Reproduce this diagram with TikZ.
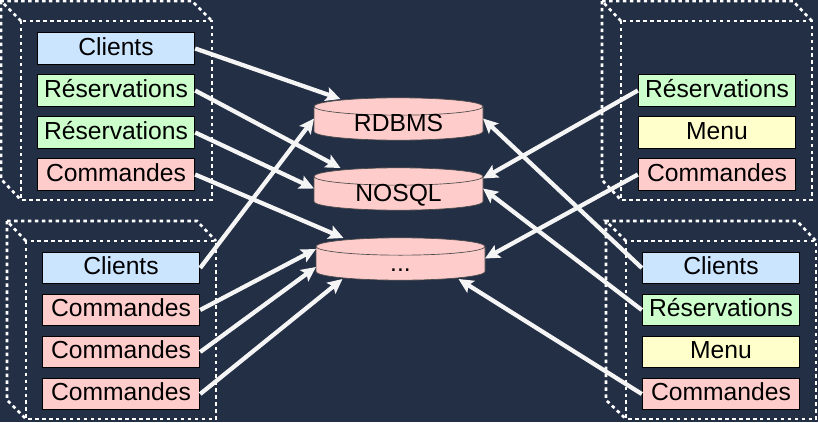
\documentclass[tikz,border=0pt]{standalone}
\usepackage[]{xcolor}
\usepackage{fontspec}
\setmainfont{Liberation Sans}
\usetikzlibrary{arrows.meta,calc,shapes.geometric}
\definecolor{slate}{HTML}{232F45}
\definecolor{paleblue}{HTML}{CCE5FF}
\definecolor{palegreen}{HTML}{CCFFCC}
\definecolor{palered}{HTML}{FFCCCC}
\definecolor{paleyellow}{HTML}{FFFFCC}
\definecolor{linkwhite}{HTML}{F5F5F5}
\begin{document}
\begin{tikzpicture}[
            x=0.75pt, y=-0.75pt,
            node distance=31.5pt,
            entity/.style={rectangle, draw=black, line width=0.75pt, minimum width=118pt, minimum height=23.5pt, inner sep=0pt, text height=13.5pt, text depth=3.2pt, font=\fontsize{18.5}{20}\selectfont},
            client/.style={entity, fill=paleblue},
            booking/.style={entity, fill=palegreen},
            order/.style={entity, fill=palered},
            menu/.style={entity, fill=paleyellow},
            store/.style={cylinder, shape border rotate=90, shape aspect=0.13, draw=black!70, line width=0.5pt, fill=palered, minimum width=126.75pt, minimum height=30pt, inner sep=0pt, text width=100pt, align=center, text height=12pt, text depth=-4pt, font=\fontsize{18.5}{20}\selectfont},
            service/.style={draw=white, line width=2pt, dash pattern=on 2.6pt off 2.6pt},
            arrow/.style={-{Stealth[length=11pt,width=10.5pt,inset=2.2pt]}, draw=linkwhite, line width=3.2pt}
        ]
            \useasboundingbox[fill=slate] (0,0) rectangle (818,422);

            % services
            \draw[service] (21,21) rectangle (212,200);
            \draw[service] (21,21) -- (1,1) -- (192,1) -- (212,21);
            \draw[service] (1,1) -- (1,179) -- (21,200);

            \draw[service] (26,241) rectangle (216,419);
            \draw[service] (26,241) -- (7,221) -- (197,221) -- (216,241);
            \draw[service] (7,221) -- (7,400) -- (26,419);

            \draw[service] (621,21) rectangle (812,200);
            \draw[service] (621,21) -- (602,1) -- (793,1) -- (812,21);
            \draw[service] (602,1) -- (602,180) -- (621,200);

            \draw[service] (626,241) rectangle (816,419);
            \draw[service] (626,241) -- (606,221) -- (797,221) -- (816,241);
            \draw[service] (606,221) -- (606,400) -- (626,419);

            % tables
            \node[client] (A1) at (116,48.5) {Clients};
            \node[booking, below of=A1] (A2) {Réservations};
            \node[booking, below of=A2] (A3) {Réservations};
            \node[order, below of=A3] (A4) {Commandes};

            \node[client] (B1) at (121,268) {Clients};
            \node[order, below of=B1] (B2) {Commandes};
            \node[order, below of=B2] (B3) {Commandes};
            \node[order, below of=B3] (B4) {Commandes};

            \node[booking] (C1) at (717,90.5) {Réservations};
            \node[menu, below of=C1] (C2) {Menu};
            \node[order, below of=C2] (C3) {Commandes};

            \node[client] (D1) at (721,268) {Clients};
            \node[booking, below of=D1] (D2) {Réservations};
            \node[menu, below of=D2] (D3) {Menu};
            \node[order, below of=D3] (D4) {Commandes};

            % bases
            \node[store] (rdbms) at (398.5,123.5) {RDBMS};
            \node[store] (nosql) at (398.5,193.5) {NOSQL};
            \node[store] (other) at (400.5,263.5) {...};

            % links
            \draw[arrow] (A1.east) -- ($(rdbms.center)+(-58,-24.5)$);
            \draw[arrow] (A2.east) -- ($(nosql.center)+(-58,-25.5)$);
            \draw[arrow] (A3.east) -- ($(nosql.center)+(-84.5,-5)$);
            \draw[arrow] (A4.east) -- ($(other.center)+(-57,-25.5)$);

            \draw[arrow] (B1.east) -- ($(rdbms.center)+(-84.5,-5)$);
            \draw[arrow] (B2.east) -- ($(other.center)+(-84.5,-14.5)$);
            \draw[arrow] (B3.east) -- ($(other.center)+(-84.5,3.5)$);
            \draw[arrow] (B4.east) -- ($(other.center)+(-58,15.5)$);

            \draw[arrow] (C1.west) -- ($(nosql.center)+(84.5,-15)$);
            \draw[arrow] (C3.west) -- ($(other.center)+(84.5,-5)$);

            \draw[arrow] (D1.west) -- ($(rdbms.center)+(84.5,-5)$);
            \draw[arrow] (D2.west) -- ($(nosql.center)+(84.5,-5)$);
            \draw[arrow] (D4.west) -- ($(other.center)+(58,15.5)$);
        \end{tikzpicture}
\end{document}
